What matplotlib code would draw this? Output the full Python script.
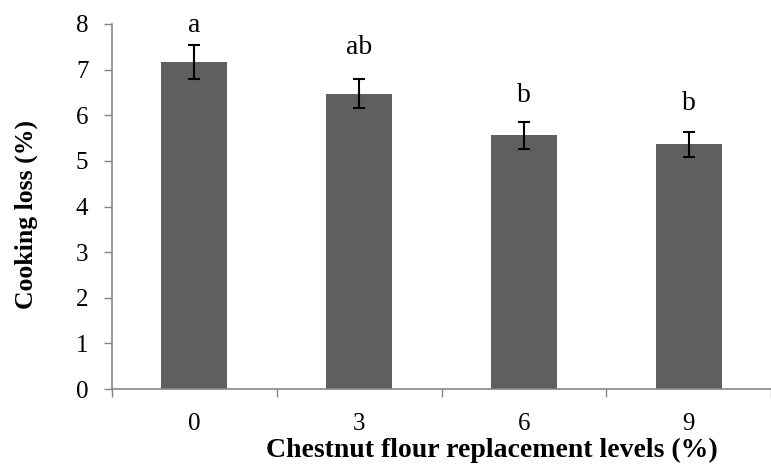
import matplotlib
matplotlib.use("Agg")
import matplotlib.pyplot as plt
import numpy as np

categories = ["0", "3", "6", "9"]
values = [7.17, 6.47, 5.56, 5.36]
errors = [0.37, 0.32, 0.29, 0.27]
letters = ["a", "ab", "b", "b"]
letter_y = [7.83, 7.35, 6.29, 6.12]
yticks = [0, 1, 2, 3, 4, 5, 6, 7, 8]

plt.rcParams['font.family'] = ['Liberation Serif', 'DejaVu Serif']

fig = plt.figure(figsize=(7.71, 4.68), dpi=100)
ax = fig.add_axes([112/771, 1-389/468, 1-112/771, (389-24)/468])

x = np.arange(len(categories))
axis_color = "#868686"
ax.bar(x, values, width=0.4, color="#5f5f5f", zorder=2)
ax.errorbar(x, values, yerr=errors, fmt="none", ecolor="black", elinewidth=1.5,
            capsize=4.5, capthick=1.5, zorder=3)
for xi, ly, l in zip(x, letter_y, letters):
    ax.text(xi, ly, l, ha="center", va="baseline", fontsize=20, clip_on=False)

ax.set_xlim(-0.5, len(categories) - 0.5)
ax.set_ylim(0, 8)
ax.set_yticks(yticks)
ax.set_yticklabels([str(t) for t in yticks], fontsize=18)

ax.set_xticks(x)
ax.set_xticklabels(categories, fontsize=18)
ax.set_xticks(np.arange(-0.5, len(categories), 1.0), minor=True)
ax.tick_params(axis="x", which="major", length=0, pad=17)
ax.tick_params(axis="x", which="minor", length=6, width=1, color=axis_color, direction="out")
ax.tick_params(axis="y", length=6, width=1, color=axis_color, direction="out", pad=11)

for s in ["top", "right"]:
    ax.spines[s].set_visible(False)
for s in ["left", "bottom"]:
    ax.spines[s].set_color(axis_color)
    ax.spines[s].set_linewidth(1.2)

fig.text(492/771, 1-450/468, "Chestnut flour replacement levels (%)", fontsize=20,
         fontweight="bold", ha="center", va="center")
fig.text(26/771, 1-214.5/468, "Cooking loss (%)", fontsize=18.5, fontweight="bold",
         ha="center", va="center", rotation=90)

fig.savefig("out.png", dpi=100)
